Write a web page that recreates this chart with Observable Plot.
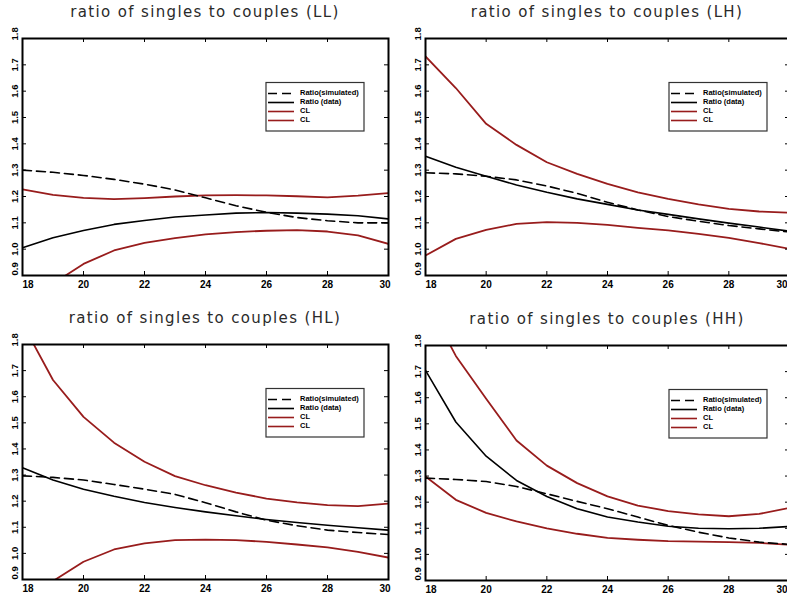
<!DOCTYPE html>
<html>
<head>
<meta charset="utf-8">
<script src="https://cdn.jsdelivr.net/npm/d3@7"></script>
<script src="https://cdn.jsdelivr.net/npm/@observablehq/plot@0.6"></script>
<style>
  html, body { margin: 0; padding: 0; background: #fff; }
  #chart { position: relative; width: 787px; height: 599px; overflow: hidden; background: #fff; }
  #chart svg { position: absolute; }
</style>
</head>
<body>
<div id="chart"></div>
<script>
// Age grid shared by every panel
const ages = [18, 19, 20, 21, 22, 23, 24, 25, 26, 27, 28, 29, 30];
const xTicks = [18, 20, 22, 24, 26, 28, 30];
const yTicks = [0.9, 1.0, 1.1, 1.2, 1.3, 1.4, 1.5, 1.6, 1.7, 1.8];
const legendLabels = ["Ratio(simulated)", "Ratio (data)", "CL", "CL"];

// LL
const llSim   = [1.300, 1.292, 1.280, 1.265, 1.247, 1.225, 1.195, 1.165, 1.140, 1.120, 1.108, 1.100, 1.100];
const llData  = [1.005, 1.043, 1.071, 1.094, 1.109, 1.122, 1.130, 1.137, 1.139, 1.137, 1.133, 1.127, 1.115];
const llUpper = [1.227, 1.206, 1.195, 1.190, 1.194, 1.200, 1.204, 1.205, 1.204, 1.201, 1.197, 1.203, 1.213];
const llLower = [0.780, 0.869, 0.944, 0.995, 1.024, 1.042, 1.056, 1.065, 1.070, 1.072, 1.067, 1.052, 1.020];

// LH
const lhSim   = [1.290, 1.286, 1.277, 1.263, 1.240, 1.212, 1.178, 1.149, 1.124, 1.106, 1.090, 1.077, 1.065];
const lhData  = [1.353, 1.311, 1.277, 1.244, 1.216, 1.191, 1.170, 1.149, 1.132, 1.115, 1.099, 1.084, 1.068];
const lhUpper = [1.732, 1.612, 1.476, 1.396, 1.330, 1.286, 1.248, 1.216, 1.191, 1.170, 1.153, 1.143, 1.138];
const lhLower = [0.976, 1.039, 1.073, 1.096, 1.103, 1.100, 1.092, 1.081, 1.071, 1.058, 1.043, 1.023, 1.001];

// HL
const hlSim   = [1.297, 1.291, 1.281, 1.264, 1.246, 1.226, 1.194, 1.159, 1.127, 1.106, 1.089, 1.080, 1.072];
const hlData  = [1.328, 1.281, 1.246, 1.219, 1.195, 1.176, 1.159, 1.144, 1.130, 1.118, 1.108, 1.098, 1.089];
const hlUpper = [1.880, 1.664, 1.523, 1.424, 1.351, 1.296, 1.261, 1.233, 1.210, 1.195, 1.185, 1.181, 1.191];
const hlLower = [0.800, 0.894, 0.968, 1.015, 1.038, 1.051, 1.053, 1.051, 1.044, 1.034, 1.023, 1.006, 0.984];

// HH
const hhSim   = [1.292, 1.287, 1.279, 1.260, 1.232, 1.203, 1.175, 1.143, 1.111, 1.085, 1.063, 1.047, 1.038];
const hhData  = [1.705, 1.507, 1.376, 1.283, 1.222, 1.175, 1.143, 1.124, 1.108, 1.100, 1.098, 1.100, 1.107];
const hhUpper = [1.980, 1.760, 1.596, 1.436, 1.340, 1.273, 1.222, 1.187, 1.166, 1.153, 1.146, 1.155, 1.178];
const hhLower = [1.298, 1.209, 1.159, 1.126, 1.100, 1.079, 1.063, 1.056, 1.051, 1.049, 1.047, 1.044, 1.037];

const RED = "#981c1c";
const LABEL_FONT = "'Liberation Sans', Arial, sans-serif";
const CHART_WIDTH = 787;

function drawPanel(code, sim, data, upper, lower, box) {
  const {left, top, width, height, mL, mR, mT, mB} = box;
  const fw = width - mL - mR;
  const fh = height - mT - mB;
  const rows = ages.map((age, i) => ({age, sim: sim[i], data: data[i], upper: upper[i], lower: lower[i]}));
  const midY = yTicks.filter(d => d > 0.95 && d < 1.75);
  const midX = xTicks.filter(d => d !== 18 && d !== 30);
  // keep the last x label inside the visible page
  const lastDx = Math.min(2, CHART_WIDTH - (left + mL + fw));

  const xLabel = {frameAnchor: "bottom", dy: 9, lineAnchor: "middle", fontSize: 10, fontWeight: "bold", fill: "#000"};
  const yLabel = {frameAnchor: "left", dx: -8, rotate: -90, lineAnchor: "middle", fontSize: 9.5, fontWeight: "bold", fill: "#000"};

  const svg = Plot.plot({
    width, height,
    marginLeft: mL, marginRight: mR, marginTop: mT, marginBottom: mB,
    x: {domain: [18, 30], axis: null},
    y: {domain: [0.9, 1.8], axis: null},
    style: {background: "transparent", fontFamily: LABEL_FONT, overflow: "visible"},
    marks: [
      Plot.line(rows, {x: "age", y: "upper", stroke: RED, strokeWidth: 1.8, clip: true}),
      Plot.line(rows, {x: "age", y: "lower", stroke: RED, strokeWidth: 1.8, clip: true}),
      Plot.line(rows, {x: "age", y: "sim", stroke: "#000", strokeWidth: 1.6, strokeDasharray: "9,5", clip: true}),
      Plot.line(rows, {x: "age", y: "data", stroke: "#000", strokeWidth: 1.6, clip: true}),
      // inward tick marks on all four sides
      Plot.tickY(yTicks, {y: d => d, insetRight: fw - 4, stroke: "#000"}),
      Plot.tickY(yTicks, {y: d => d, insetLeft: fw - 4, stroke: "#000"}),
      Plot.tickX(xTicks, {x: d => d, insetTop: fh - 4, stroke: "#000"}),
      Plot.tickX(xTicks, {x: d => d, insetBottom: fh - 4, stroke: "#000"}),
      Plot.frame({stroke: "#000", strokeWidth: 2}),
      // x tick labels
      Plot.text([18], {...xLabel, x: d => d, text: d => String(d), textAnchor: "start"}),
      Plot.text(midX, {...xLabel, x: d => d, text: d => String(d), textAnchor: "middle"}),
      Plot.text([30], {...xLabel, x: d => d, text: d => String(d), textAnchor: "end", dx: lastDx}),
      // y tick labels, rotated
      Plot.text([0.9], {...yLabel, y: d => d, text: d => d.toFixed(1), textAnchor: "start"}),
      Plot.text(midY, {...yLabel, y: d => d, text: d => d.toFixed(1), textAnchor: "middle"}),
      Plot.text([1.8], {...yLabel, y: d => d, text: d => d.toFixed(1), textAnchor: "start", dy: 2})
    ]
  });

  svg.style.left = left + "px";
  svg.style.top = top + "px";
  const g = d3.select(svg);

  // panel title
  g.append("text")
    .attr("x", mL + fw / 2)
    .attr("y", mT - 26)
    .attr("text-anchor", "middle")
    .attr("dominant-baseline", "middle")
    .attr("font-family", "'DejaVu Sans', sans-serif")
    .attr("font-size", 15)
    .attr("letter-spacing", 1.35)
    .attr("fill", "#2a2a2a")
    .text(`ratio of singles to couples (${code})`);

  // legend box
  const lx = mL + 244, ly = mT + 44.5;
  const lg = g.append("g").attr("transform", `translate(${lx},${ly})`);
  lg.append("rect").attr("width", 98).attr("height", 48.5)
    .attr("fill", "#fff").attr("stroke", "#333").attr("stroke-width", 1.2);
  const styles = [
    {stroke: "#000", dash: "9,5", w: 1.6},
    {stroke: "#000", dash: null, w: 1.6},
    {stroke: RED, dash: null, w: 1.6},
    {stroke: RED, dash: null, w: 1.6}
  ];
  legendLabels.forEach((label, i) => {
    const yy = 11 + i * 9;
    const ln = lg.append("line").attr("x1", 2).attr("x2", 28).attr("y1", yy).attr("y2", yy)
      .attr("stroke", styles[i].stroke).attr("stroke-width", styles[i].w);
    if (styles[i].dash) ln.attr("stroke-dasharray", styles[i].dash);
    lg.append("text").attr("x", 34).attr("y", yy)
      .attr("text-anchor", "start").attr("dominant-baseline", "middle")
      .attr("font-family", LABEL_FONT).attr("font-size", 7.5).attr("font-weight", "bold")
      .attr("fill", "#000").text(label);
  });

  document.getElementById("chart").appendChild(svg);
}

drawPanel("LL", llSim, llData, llUpper, llLower, {left: 0,   top: 0,   width: 393, height: 300, mL: 22, mR: 5, mT: 38, mB: 25});
drawPanel("LH", lhSim, lhData, lhUpper, lhLower, {left: 393, top: 0,   width: 400, height: 300, mL: 32, mR: 4, mT: 38, mB: 25});
drawPanel("HL", hlSim, hlData, hlUpper, hlLower, {left: 0,   top: 300, width: 393, height: 299, mL: 22, mR: 5, mT: 44, mB: 20});
drawPanel("HH", hhSim, hhData, hhUpper, hhLower, {left: 393, top: 300, width: 400, height: 299, mL: 32, mR: 4, mT: 45, mB: 19});
</script>
</body>
</html>
